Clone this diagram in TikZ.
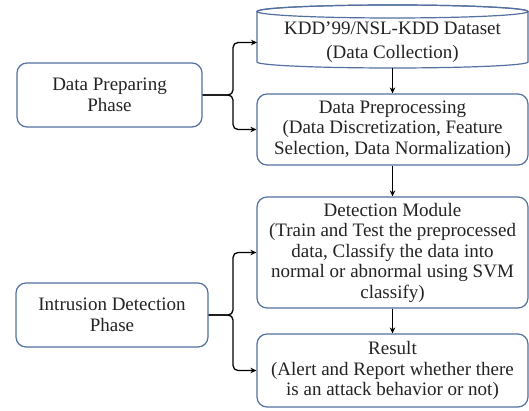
\documentclass[tikz,border=0pt]{standalone}
\usepackage{fontspec}
\setmainfont{LiberationSerif-Regular.ttf}
\usetikzlibrary{arrows.meta}
\definecolor{boxblue}{RGB}{84,112,160}
\definecolor{txt}{RGB}{35,35,35}
\begin{document}
\begin{tikzpicture}[x=1pt,y=1pt,
  box/.style={draw=boxblue, line width=1.2pt, rounded corners=10pt, fill=white,
    align=center, inner sep=0pt, text=txt, font=\fontsize{19}{20.5}\selectfont},
  plain/.style={align=center, inner sep=0pt, text=txt, font=\fontsize{19}{24}\selectfont},
  arr/.style={-{Stealth[length=6pt,width=5.5pt]}, line width=1.3pt, black},
  brace/.style={arr, rounded corners=5pt}]
\useasboundingbox (0,0) rectangle (529,411);
% cylinder
\draw[boxblue, line width=1.2pt, fill=white]
  (257,399.5) -- (257,349) arc (180:360:135.5pt and 6pt) -- (528,399.5)
  arc (0:180:135.5pt and 6.5pt) -- cycle;
\draw[boxblue, line width=1.2pt] (392.5,399.5) ellipse (135.5pt and 6.5pt);
\node[plain] (ds) at (392.5,368.5) {KDD’99/NSL-KDD Dataset\\(Data Collection)};
\coordinate (cylb) at (392.5,343);
% boxes
\node[box, minimum width=185pt, minimum height=64pt] (dp) at (109.5,316) {Data Preparing\\Phase};
\node[box, minimum width=192pt, minimum height=64pt] (idp) at (112,96) {Intrusion Detection\\Phase};
\node[box, minimum width=271pt, minimum height=71pt] (pre) at (392.5,281.5)
  {Data Preprocessing\\(Data Discretization, Feature\\Selection, Data Normalization)};
\node[box, minimum width=271pt, minimum height=111pt] (det) at (392.5,158.5)
  {Detection Module\\(Train and Test the preprocessed\\data, Classify the data into\\normal or abnormal using SVM\\classify)};
\node[box, minimum width=271pt, minimum height=73pt] (res) at (392.5,40.5)
  {Result\\(Alert and Report whether there\\is an attack behavior or not)};
% bracket coordinates
\coordinate (bA) at (233,316);
\coordinate (bB) at (233,96);
\draw[brace] (dp.east) -| (bA |- ds.west) -- (257,368.5);
\draw[brace] (dp.east) -| (bA |- pre.west) -- (pre.west);
\draw[brace] (idp.east) -| (bB |- det.west) -- (det.west);
\draw[brace] (idp.east) -| (bB |- res.west) -- (res.west);
% vertical arrows
\draw[arr] (cylb) -- (pre.north);
\draw[arr] (pre.south) -- (det.north);
\draw[arr] (det.south) -- (res.north);
\end{tikzpicture}
\end{document}
